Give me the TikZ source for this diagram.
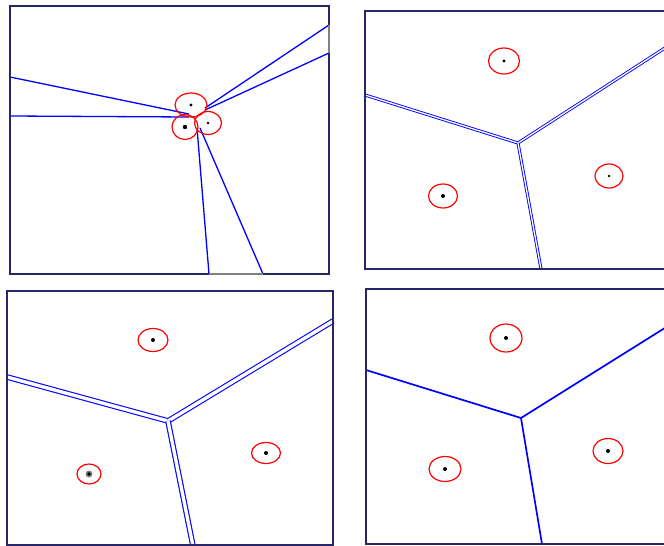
\documentclass[tikz,border=0pt]{standalone}
\usetikzlibrary{shapes.geometric}
\definecolor{framenavy}{RGB}{38,38,105}
\begin{document}
\begin{tikzpicture}[x=1pt,y=-1pt,
  site/.style={ellipse,draw=red,line width=1.2pt,minimum width=30pt,minimum height=25pt,inner sep=0pt},
  dot/.style={circle,fill=black,inner sep=0pt,minimum size=3.4pt},
  edge/.style={blue,line width=1.3pt},
  thinpair/.style={draw=blue,double=white,line width=0.9pt,double distance=1.3pt},
  widepair/.style={draw=blue,double=white,line width=1.1pt,double distance=3.4pt},
  panel/.style={draw=framenavy,line width=1.8pt}]
\useasboundingbox (0,0) rectangle (664,546);
\clip (0,0) rectangle (664,546);

% top left: sites almost on top of each other
\coordinate (l1) at (10,77);
\coordinate (l2) at (10,116);
\coordinate (r1) at (329,25);
\coordinate (r2) at (329,53);
\coordinate (b1) at (209,274);
\coordinate (b2) at (263,274);
\draw[edge] (l1) -- (189,114);
\draw[edge] (l2) -- (189,117);
\draw[edge] (r1) -- (205,108);
\draw[edge] (r2) -- (205,110);
\draw[edge] (b1) -- (197,128);
\draw[edge] (b2) -- (200,128);
\draw[panel] (10,6) rectangle (329,274);
\draw[gray,line width=1.8pt] (b1) -- (b2) (r1) -- (r2);
\node[site,minimum width=32pt,minimum height=24pt] (s1) at (191,105) {};
\node[site,minimum width=26pt,minimum height=25pt] (s2) at (185,127) {};
\node[site,minimum width=27pt,minimum height=23pt] (s3) at (208,123) {};
\node[dot] at (s1) {};
\node[dot,minimum size=4.4pt] at (s2) {};
\node[dot,minimum size=2.6pt] at (s3) {};

% top right
\coordinate (v2) at (518,143);
\draw[thinpair] (365,95) -- (v2);
\draw[thinpair] (v2) -- (668,46);
\draw[thinpair] (v2) -- (541,269);
\draw[panel] (365,11) rectangle (680,269);
\node[site,minimum width=31pt,minimum height=26pt] (t1) at (504,61) {};
\node[site,minimum width=29pt,minimum height=24pt] (t2) at (443,196) {};
\node[site,minimum width=28pt,minimum height=24pt] (t3) at (609,176) {};
\node[dot] at (t1) {};
\node[dot,minimum size=4pt] at (t2) {};
\node[dot,minimum size=2.6pt] at (t3) {};

% bottom left
\coordinate (v3) at (168,421);
\draw[widepair] (7,377) -- (v3);
\draw[widepair] (v3) -- (333,321);
\draw[widepair] (v3) -- (193,546);
\draw[panel] (7,291) rectangle (333,545);
\node[site,minimum width=30pt,minimum height=23pt] (u1) at (153,340) {};
\node[site,minimum width=24pt,minimum height=20pt] (u2) at (89,474) {};
\node[site,minimum width=29pt,minimum height=21pt] (u3) at (266,453) {};
\node[dot,minimum size=4pt] at (u1) {};
\node[circle,fill=gray,inner sep=0pt,minimum size=7pt] at (u2) {};
\node[dot,minimum size=3.6pt] at (u2) {};
\node[dot,minimum size=4pt] at (u3) {};

% bottom right
\coordinate (v4) at (521,418);
\draw[edge,line width=1.7pt] (366,370) -- (v4);
\draw[edge,line width=1.7pt] (v4) -- (668,326);
\draw[edge,line width=1.7pt] (v4) -- (542,544);
\draw[panel] (366,289) rectangle (680,544);
\node[site,minimum width=32pt,minimum height=28pt] (w1) at (506,338) {};
\node[site,minimum width=32pt,minimum height=25pt] (w2) at (445,469) {};
\node[site,minimum width=30pt,minimum height=25pt] (w3) at (608,451) {};
\node[dot,minimum size=4pt] at (w1) {};
\node[dot,minimum size=4pt] at (w2) {};
\node[dot,minimum size=4pt] at (w3) {};
\end{tikzpicture}
\end{document}
